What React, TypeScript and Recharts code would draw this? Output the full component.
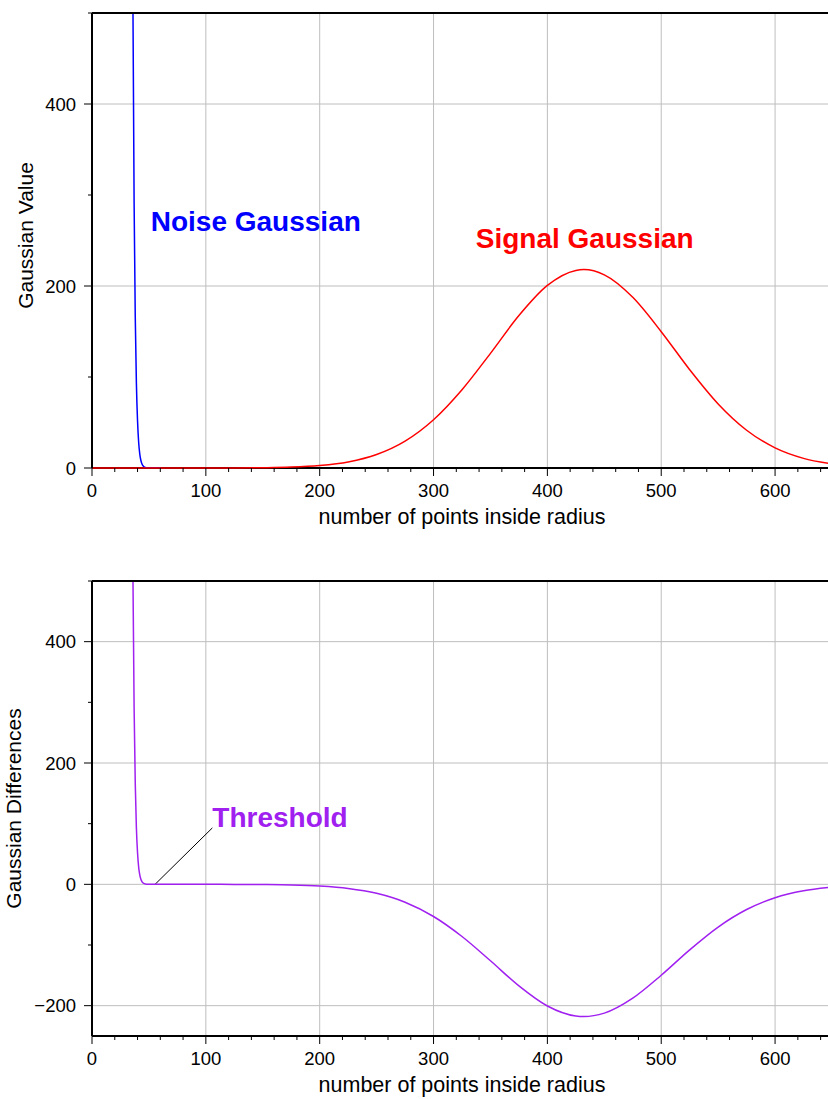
import React from "react";
import { LineChart, Line, XAxis, YAxis, ReferenceLine, ReferenceDot, Label } from "recharts";

const FONT = "'Liberation Sans', Arial, Helvetica, sans-serif";
const BLUE = "#0000ff";
const RED = "#ff0000";
const PURPLE = "#a020f0";
const GRID = "#bebebe";

// noise gaussian: drops from far above the frame to zero within a few points
const noiseX = [33, 34, 35, 36, 37, 38, 39, 40, 41, 42, 43, 44, 45, 46, 47, 48, 50, 60];
const noiseY = [2344, 1422, 849, 500, 290, 166, 93, 52, 28, 15, 8, 4.2, 2.2, 1.1, 0.5, 0.3, 0.1, 0];

// signal gaussian: broad bump, peak near 432
const signalX = [0, 25, 50, 75, 100, 125, 150, 175, 200, 225, 250, 275, 300, 325, 350, 375, 400, 425, 432, 450, 475, 500, 525, 550, 575, 600, 625, 650];
const signalY = [0, 0, 0, 0, 0.03, 0.1, 0.34, 1.0, 2.8, 6.7, 14.8, 29.5, 53, 86, 126, 167.5, 200.6, 217.1, 218, 212.3, 187.6, 149.8, 108, 70.4, 41.5, 22.1, 10.6, 4.6];

// noise minus signal
const diffX = [33, 34, 35, 36, 37, 38, 39, 40, 41, 42, 43, 44, 45, 46, 47, 48, 50, 75, 100, 125, 150, 175, 200, 225, 250, 275, 300, 325, 350, 375, 400, 425, 432, 450, 475, 500, 525, 550, 575, 600, 625, 650];
const diffY = [2344, 1422, 849, 500, 290, 166, 93, 52, 28, 15, 8, 4.2, 2.2, 1.1, 0.5, 0.3, 0.1, 0, -0.03, -0.1, -0.34, -1.0, -2.8, -6.7, -14.8, -29.5, -53, -86, -126, -167.5, -200.6, -217.1, -218, -212.3, -187.6, -149.8, -108, -70.4, -41.5, -22.1, -10.6, -4.6];

const xDomain = [0, 650];
const xTicks = Array.from({ length: 33 }, (_, i) => i * 20);
const xGrid = [100, 200, 300, 400, 500, 600];
const topYTicks = [0, 100, 200, 300, 400, 500];
const topYGrid = [200, 400];
const bottomYTicks = [-200, -100, 0, 100, 200, 300, 400, 500];
const bottomYGrid = [-200, 0, 200, 400];
const xTitle = "number of points inside radius";

const rows = (xs: number[], ys: number[]) => xs.map((x, i) => ({ x, y: ys[i] }));
const noiseData = rows(noiseX, noiseY);
const signalData = rows(signalX, signalY);
const diffData = rows(diffX, diffY);

const fmt = (v: number) => (v < 0 ? `\u2212${-v}` : `${v}`);

const BottomTick = (p: any) => {
  const v = p.payload.value;
  const major = v % 100 === 0;
  return (
    <g>
      <line x1={p.x} x2={p.x} y1={p.y} y2={p.y + (major ? 8 : 4)} stroke="#000" strokeWidth={1} />
      {major && (
        <text x={p.x} y={p.y + 29} textAnchor="middle" fontSize={18.5} fill="#000" fontFamily={FONT}>
          {fmt(v)}
        </text>
      )}
    </g>
  );
};

const TopTick = (p: any) => {
  const major = p.payload.value % 100 === 0;
  return <line x1={p.x} x2={p.x} y1={p.y} y2={p.y - (major ? 8 : 4)} stroke="#000" strokeWidth={1} />;
};

const LeftTick = (p: any) => {
  const v = p.payload.value;
  const major = v % 200 === 0;
  return (
    <g>
      <line x1={p.x - (major ? 8 : 4)} x2={p.x} y1={p.y} y2={p.y} stroke="#000" strokeWidth={1} />
      {major && (
        <text x={p.x - 16} y={p.y + 6.5} textAnchor="end" fontSize={18.5} fill="#000" fontFamily={FONT}>
          {fmt(v)}
        </text>
      )}
    </g>
  );
};

const xTitleLabel = (props: any) => {
  const vb = props.viewBox;
  return (
    <text x={vb.x + vb.width / 2} y={vb.y + 56} textAnchor="middle" fontSize={21.5} fill="#000" fontFamily={FONT}>
      {xTitle}
    </text>
  );
};

const yTitleLabel = (text: string, baseX: number, shift: number) => (props: any) => {
  const vb = props.viewBox;
  const cy = vb.y + vb.height / 2 + shift;
  return (
    <text
      x={baseX}
      y={cy}
      transform={`rotate(-90 ${baseX} ${cy})`}
      textAnchor="middle"
      fontSize={21}
      fill="#000"
      fontFamily={FONT}
    >
      {text}
    </text>
  );
};

const note = (text: string, color: string, anchor: string) => (p: any) => (
  <text x={p.cx} y={p.cy} textAnchor={anchor} fontSize={28} fontWeight="bold" fill={color} fontFamily={FONT}>
    {text}
  </text>
);

const frame = { stroke: "#000", strokeWidth: 2 };

export default function App() {
  return (
    <div style={{ position: "absolute", left: 0, top: 0, width: 828, height: 1099, overflow: "hidden", background: "#fff", fontFamily: FONT }}>
      <div style={{ position: "absolute", left: 0, top: 0 }}>
        <LineChart width={850} height={540} margin={{ top: 0, right: 18, bottom: 42, left: 0 }}>
          <XAxis
            dataKey="x"
            type="number"
            domain={xDomain}
            ticks={xTicks}
            interval={0}
            tick={<BottomTick />}
            tickLine={false}
            tickSize={0}
            tickMargin={0}
            height={30}
            axisLine={false}
          >
            <Label content={xTitleLabel} />
          </XAxis>
          <XAxis
            xAxisId="top"
            orientation="top"
            type="number"
            domain={xDomain}
            ticks={xTicks}
            interval={0}
            tick={<TopTick />}
            tickLine={false}
            tickSize={0}
            tickMargin={0}
            height={13}
            axisLine={frame}
          />
          <YAxis
            type="number"
            domain={[0, 500]}
            ticks={topYTicks}
            interval={0}
            allowDataOverflow
            tick={<LeftTick />}
            tickLine={false}
            tickSize={0}
            tickMargin={0}
            width={92}
            axisLine={frame}
          >
            <Label content={yTitleLabel("Gaussian Value", 33, -5)} />
          </YAxis>
          {/* same scale as the main axis, but without clipping so the flat red tail sits on the frame */}
          <YAxis yAxisId="s" type="number" domain={[0, 500]} hide />
          {xGrid.map((v) => (
            <ReferenceLine key={`gx${v}`} x={v} stroke={GRID} strokeWidth={1} />
          ))}
          {topYGrid.map((v) => (
            <ReferenceLine key={`gy${v}`} y={v} stroke={GRID} strokeWidth={1} />
          ))}
          <ReferenceLine y={0} stroke="#000" strokeWidth={2} />
          <Line data={noiseData} dataKey="y" type="monotone" stroke={BLUE} strokeWidth={1.5} dot={false} isAnimationActive={false} />
          <Line data={signalData} yAxisId="s" dataKey="y" type="monotone" stroke={RED} strokeWidth={1.5} dot={false} isAnimationActive={false} />
          <ReferenceDot x={51.6} y={260} r={1} shape={note("Noise Gaussian", BLUE, "start")} />
          <ReferenceDot x={432.8} y={241.3} r={1} shape={note("Signal Gaussian", RED, "middle")} />
        </LineChart>
      </div>
      <div style={{ position: "absolute", left: 0, top: 568 }}>
        <LineChart width={850} height={531} margin={{ top: 0, right: 18, bottom: 33, left: 0 }}>
          <XAxis
            dataKey="x"
            type="number"
            domain={xDomain}
            ticks={xTicks}
            interval={0}
            tick={<BottomTick />}
            tickLine={false}
            tickSize={0}
            tickMargin={0}
            height={30}
            axisLine={frame}
          >
            <Label content={xTitleLabel} />
          </XAxis>
          <XAxis
            xAxisId="top"
            orientation="top"
            type="number"
            domain={xDomain}
            ticks={xTicks}
            interval={0}
            tick={<TopTick />}
            tickLine={false}
            tickSize={0}
            tickMargin={0}
            height={13}
            axisLine={frame}
          />
          <YAxis
            type="number"
            domain={[-250, 500]}
            ticks={bottomYTicks}
            interval={0}
            allowDataOverflow
            tick={<LeftTick />}
            tickLine={false}
            tickSize={0}
            tickMargin={0}
            width={92}
            axisLine={frame}
          >
            <Label content={yTitleLabel("Gaussian Differences", 21, 0)} />
          </YAxis>
          {xGrid.map((v) => (
            <ReferenceLine key={`gx${v}`} x={v} stroke={GRID} strokeWidth={1} />
          ))}
          {bottomYGrid.map((v) => (
            <ReferenceLine key={`gy${v}`} y={v} stroke={GRID} strokeWidth={1} />
          ))}
          <ReferenceLine segment={[{ x: 55.4, y: 0 }, { x: 105.7, y: 93 }]} stroke="#000" strokeWidth={1} />
          <Line data={diffData} dataKey="y" type="monotone" stroke={PURPLE} strokeWidth={1.5} dot={false} isAnimationActive={false} />
          <ReferenceDot x={105.7} y={93.8} r={1} shape={note("Threshold", PURPLE, "start")} />
        </LineChart>
      </div>
    </div>
  );
}
